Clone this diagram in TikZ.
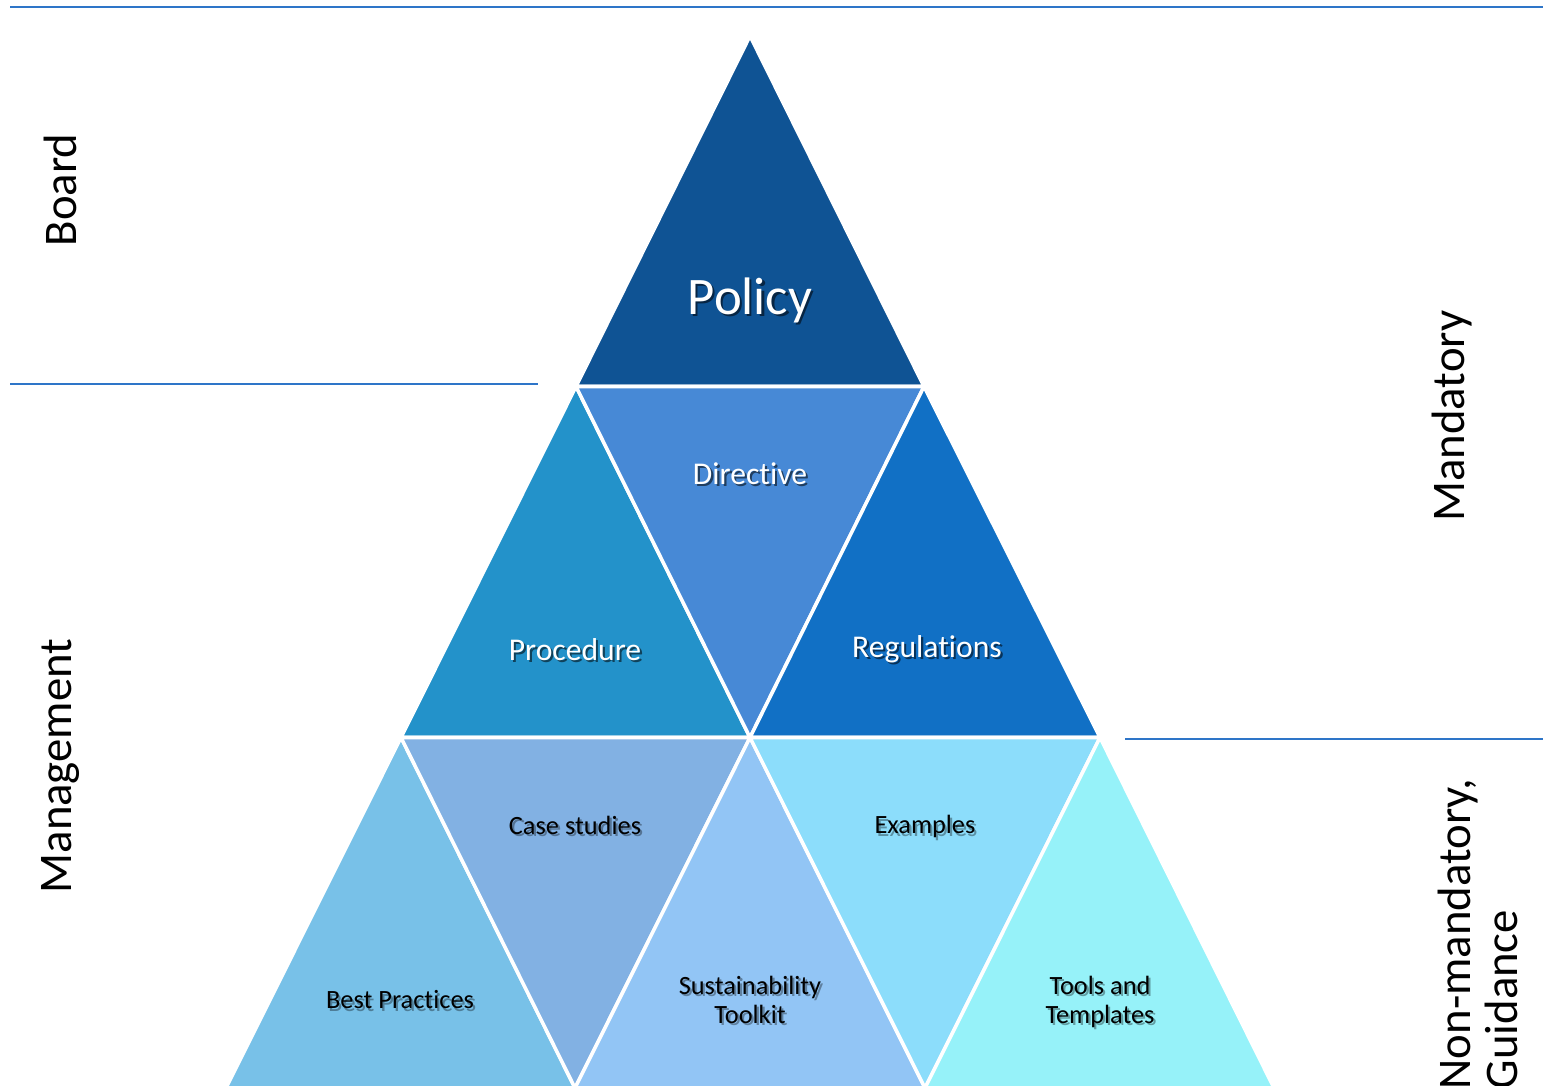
\documentclass[tikz,border=0pt]{standalone}
\usepackage{fontspec}
\setmainfont[Ligatures=NoCommon]{Carlito}
\definecolor{cPol}{HTML}{0F5394}
\definecolor{cDir}{HTML}{4789D6}
\definecolor{cPro}{HTML}{2392CA}
\definecolor{cReg}{HTML}{1170C5}
\definecolor{cBest}{HTML}{78C1E8}
\definecolor{cCase}{HTML}{82B1E3}
\definecolor{cSus}{HTML}{92C5F5}
\definecolor{cExa}{HTML}{8CDDFB}
\definecolor{cToo}{HTML}{96F2F9}
\definecolor{cRule}{RGB}{46,117,200}
\newcommand\shtxt[2]{\leavevmode\rlap{\kern0.6pt\raisebox{-0.6pt}{\textcolor{#1}{#2}}}#2}
\begin{document}
\begin{tikzpicture}[x={(0.01cm,0)},y={(0,-0.01cm)},
  tri/.style={draw=white,line width=1pt,line join=round},
  rule/.style={draw=cRule,line width=0.6pt},
  side/.style={font=\fontsize{13.3}{13.6}\selectfont,rotate=90,inner sep=0pt,text=black},
  wlab/.style={text=white,font=\fontsize{9}{11}\selectfont,align=center,inner sep=0pt},
  blab/.style={text=black,font=\fontsize{7.5}{8.3}\selectfont,align=center,inner sep=0pt}]
\useasboundingbox (0,0) rectangle (1543,1086);
\begin{scope}
\clip (0,0) rectangle (1543,1086);
% row 1
\path[tri,fill=cPol] (750,36) -- (576,386.5) -- (924,386.5) -- cycle;
% row 2
\path[tri,fill=cPro] (576,386.5) -- (401,737.5) -- (750,737.5) -- cycle;
\path[tri,fill=cDir] (576,386.5) -- (924,386.5) -- (750,737.5) -- cycle;
\path[tri,fill=cReg] (924,386.5) -- (750,737.5) -- (1100,737.5) -- cycle;
% row 3
\path[tri,fill=cBest] (401,737.5) -- (226,1088) -- (575,1088) -- cycle;
\path[tri,fill=cCase] (401,737.5) -- (750,737.5) -- (575,1088) -- cycle;
\path[tri,fill=cSus] (750,737.5) -- (575,1088) -- (925,1088) -- cycle;
\path[tri,fill=cExa] (750,737.5) -- (1100,737.5) -- (925,1088) -- cycle;
\path[tri,fill=cToo] (1100,737.5) -- (925,1088) -- (1274,1088) -- cycle;
\end{scope}
% rules
\coordinate (r1a) at (10,7);
\coordinate (r1b) at (1543,7);
\coordinate (r2a) at (10,384);
\coordinate (r2b) at (538,384);
\coordinate (r3a) at (1125,739);
\coordinate (r3b) at (1543,739);
\draw[rule] (r1a) -- (r1b);
\draw[rule] (r2a) -- (r2b);
\draw[rule] (r3a) -- (r3b);
% labels in triangles
\node[wlab,font=\fontsize{15}{17}\selectfont] (policy) at (750,301) {\shtxt{black!55!cPol}{Policy}};
\node[wlab] (directive) at (750,475) {\shtxt{black!55!cDir}{Directive}};
\node[wlab] (procedure) at (575,651) {\shtxt{black!55!cPro}{Procedure}};
\node[wlab] (regulations) at (927,650) {\shtxt{black!55!cReg}{Regulations}};
\node[blab] (case) at (575,826) {\shtxt{black!35!cCase}{Case studies}};
\node[blab] (examples) at (925,828) {\shtxt{black!35!cExa}{Examples}};
\node[blab] (best) at (400,1001) {\shtxt{black!35!cBest}{Best Practices}};
\node[blab] (sust) at (750,1001) {\shtxt{black!35!cSus}{Sustainability}\\\shtxt{black!35!cSus}{Toolkit}};
\node[blab] (tools) at (1100,1003) {\shtxt{black!35!cToo}{Tools and}\\\shtxt{black!35!cToo}{Templates}};
% side labels
\node[side] (board) at (60,190) {Board};
\node[side] (mgmt) at (61,766) {Management};
\node[side] (mand) at (1452,416) {Mandatory};
\node[side,align=left,anchor=south west] (nonmand) at (1519,1090) {Non-mandatory,\\Guidance};
\end{tikzpicture}
\end{document}
